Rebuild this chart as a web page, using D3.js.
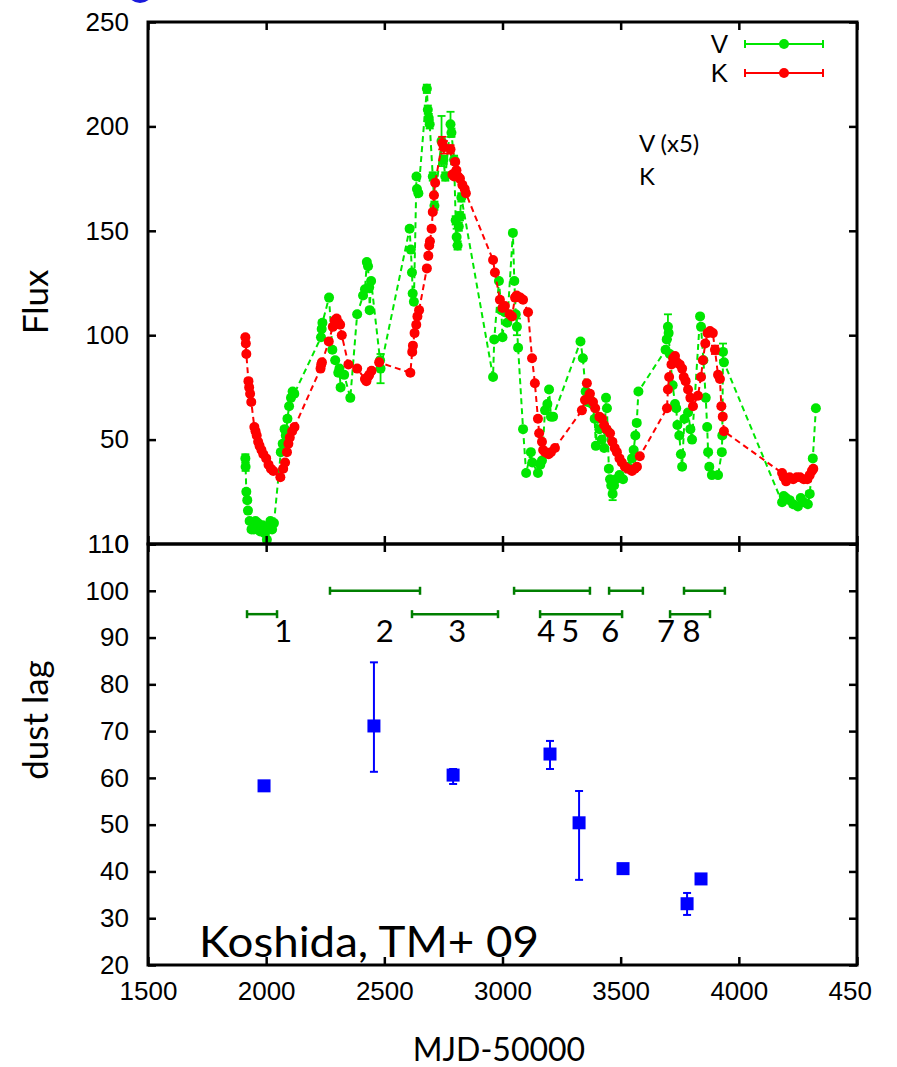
<!DOCTYPE html>
<html>
<head>
<meta charset="utf-8">
<script src="https://cdn.jsdelivr.net/npm/d3@7"></script>
<style>
  body { margin: 0; background: #fff; }
  svg { display: block; }
</style>
</head>
<body>
<svg id="chart"></svg>
<script>
// light curves: [MJD-50000, flux, error]
const vPoints = [
  [1912,41,2],[1913,37,2],[1916,25,1],[1920,21,1],[1923,16,1],[1930,11,1],[1938,7,1],[1948,7,1],[1955,11,1],[1965,10,1],[1975,6,1],[1985,9,1],[1995,5,1],[2003,2,1],[2010,8,1],[2018,11,1],[2025,7,1],[2033,10,1],
  [2062,44,1],[2070,48,1],[2078,55,1],[2083,52,1],[2090,60,1],[2097,66,1],[2105,70,1],[2112,73,1],[2119,72,1],
  [2232,99,1],[2235,103,1],[2238,106,1],[2266,118,1],[2280,93,1],[2292,88,1],[2305,82,1],[2310,84,1],[2315,75,1],[2330,81,1],[2356,70,1],
  [2385,110,1],[2410,119,1],[2418,122,1],[2426,135,1],[2431,133,1],[2436,123,1],[2438,112,1],[2444,126,1],[2482,88,1],[2484,84,7],
  [2607,151,1],[2612,141,1],[2617,130,1],[2620,120,1],[2625,116,1],[2636,176,1],[2638,170,1],[2644,168,1],
  [2680,218,2],[2684,208,2],[2688,204,2],[2692,201,2],[2705,176,2],[2712,162,2],[2742,193,12],[2750,184,2],[2758,176,2],[2780,201,6],[2784,197,2],[2795,184,2],[2802,155,2],[2806,147,4],[2810,143,2],[2815,152,2],[2820,157,2],[2826,166,2],
  [2960,80,1],[2965,98,1],[2985,126,1],[2995,112,1],[3000,99,1],[3010,111,1],[3020,106,1],[3044,149,1],[3050,126,1],[3056,110,1],[3061,104,4],[3066,94,1],[3087,55,1],[3100,34,1],[3120,44,1],[3126,39,1],[3150,34,1],[3160,38,1],[3167,40,1],[3180,64,1],[3190,67,1],[3197,74,1],[3205,61,1],[3214,61,1],
  [3330,97,1],[3340,89,1],[3352,73,1],[3360,68,1],[3372,69,1],[3380,67,1],[3390,60,1],[3395,47,1],[3400,60,1],[3410,55,1],[3420,50,1],[3430,46,1],[3438,70,1],[3442,65,1],[3445,54,1],[3450,36,1],[3455,31,1],[3460,28,1],[3466,24,3],[3472,28,1],[3480,31,1],[3495,33,1],[3510,31,1],[3530,37,1],[3548,41,1],[3555,45,1],[3562,52,1],[3568,58,1],[3575,73,1],
  [3690,93,1],[3695,98,1],[3700,104,6],[3703,101,1],[3708,91,1],[3720,76,1],[3730,67,1],[3735,65,1],[3740,57,1],[3748,52,1],[3755,43,1],[3760,37,1],[3770,60,1],[3785,63,1],[3795,55,1],[3802,50,1],[3836,109,1],[3840,104,1],[3850,88,1],[3860,70,1],[3866,56,1],[3870,44,1],[3875,37,1],[3886,33,1],[3912,33,1],[3928,44,1],[3930,52,1],[3933,92,4],[3937,87,1],
  [4183,20,1],[4190,23,1],[4200,22,1],[4215,21,1],[4230,19,1],[4250,18,1],[4262,22,1],[4275,20,1],[4292,19,1],[4300,24,1],[4313,41,1],[4326,65,1]
];

const kPoints = [
  [1912,99,1],[1914,96,1],[1916,91,1],[1925,78,1],[1928,75,1],[1932,72,1],[1937,68,1],[1950,56,1],[1955,54,1],[1960,52,1],[1966,49,1],[1972,47,1],[1980,45,1],[1988,43,1],[2000,41,1],[2010,38,1],[2020,36,1],[2030,35,1],[2060,32,1],[2072,36,1],[2080,39,1],[2088,44,1],[2094,48,1],[2100,51,1],[2110,54,1],[2120,56,1],
  [2230,84,1],[2233,86,1],[2236,87,1],[2265,97,1],[2282,104,1],[2290,107,1],[2298,108,1],[2306,106,1],[2313,105,1],[2320,100,1],[2348,86,1],[2385,84,1],[2418,79,1],[2424,78,1],[2430,80,1],[2436,81,1],[2446,83,1],[2478,87,1],
  [2610,82,1],[2618,92,1],[2621,95,1],[2628,101,1],[2635,105,1],[2640,109,1],[2647,112,1],[2680,132,1],[2686,138,1],[2690,143,1],[2693,145,1],[2700,151,1],[2705,159,1],[2710,167,1],[2715,173,1],[2745,192,3],[2752,190,3],[2780,189,2],[2788,177,1],[2795,176,1],[2800,183,1],[2805,179,1],[2812,176,1],[2820,175,1],[2830,172,1],[2840,170,1],[2845,168,1],
  [2960,136,1],[2968,130,1],[2989,117,1],[3000,113,1],[3010,114,1],[3030,110,1],[3040,109,1],[3053,118,1],[3060,119,1],[3075,118,1],[3087,117,1],[3108,111,1],[3125,89,1],[3137,77,1],[3150,60,1],[3155,53,1],[3167,49,1],[3172,45,1],[3180,44,1],[3195,43,1],[3205,44,1],[3222,46,1],
  [3336,64,1],[3349,69,1],[3357,77,1],[3370,72,1],[3383,68,1],[3392,65,1],[3410,61,1],[3421,60,1],[3430,57,1],[3440,55,1],[3455,53,1],[3465,49,1],[3475,46,1],[3484,44,1],[3495,41,1],[3505,39,1],[3518,37,1],[3530,36,1],[3548,35,1],[3560,36,1],[3569,37,1],[3581,42,1],
  [3696,65,1],[3700,74,1],[3705,80,1],[3715,86,1],[3722,89,1],[3730,90,1],[3738,87,1],[3750,86,1],[3760,84,1],[3767,80,1],[3775,78,1],[3785,74,1],[3795,70,1],[3806,66,1],[3827,71,1],[3840,80,1],[3848,88,1],[3858,96,1],[3868,101,1],[3878,102,1],[3890,101,1],[3899,93,2],[3912,81,1],[3920,79,1],[3926,66,1],[3932,61,1],[3937,54,1],
  [4183,34,1],[4190,32,1],[4200,30,1],[4215,32,1],[4230,31,1],[4245,32,1],[4259,32,1],[4275,31,1],[4290,31,1],[4300,33,1],[4309,35,1],[4315,36,1]
];

// dust lag per period
const lagMjd   = [1991, 2456, 2791, 3201, 3324, 3510, 3781, 3840];
const lagValue = [58.3, 71.1, 60.6, 65.1, 50.4, 40.6, 33.1, 38.4];
const lagErrHi = [0.5, 13.6, 1.3, 2.8, 6.8, 0.9, 2.3, 0.5];
const lagErrLo = [0.5, 9.8, 1.9, 3.2, 12.2, 0.9, 2.4, 0.5];

// time windows used for each lag
const windowLabels = ["1", "2", "3", "4", "5", "6", "7", "8"];
const windowStart  = [1919, 2270, 2617, 3049, 3159, 3451, 3709, 3768];
const windowEnd    = [2046, 2651, 2981, 3370, 3506, 3594, 3878, 3941];
const windowLevel  = [95, 100, 95, 100, 95, 100, 95, 100];
const windowLabelMjd = [2072, 2502, 2808, 3185, 3287, 3456, 3692, 3800];
const windowLabelLag = 91.5;

const xTicks    = [1500, 2000, 2500, 3000, 3500, 4000, 4500];
const fluxTicks = [0, 50, 100, 150, 200, 250];
const lagTicks  = [20, 30, 40, 50, 60, 70, 80, 90, 100, 110];

// picture is cropped on the right, through the last x label
const width = 872, height = 1067;
const L = 148, R = 857, T1 = 22, B1 = 544, T2 = 544, B2 = 965;
const green = "#00e600", red = "#ff0000";

const svg = d3.select("#chart").attr("width", width).attr("height", height);

const x = d3.scaleLinear().domain([1500, 4500]).range([L, R]);
const yFlux = d3.scaleLinear().domain([0, 250]).range([B1, T1]);
const yLag = d3.scaleLinear().domain([20, 110]).range([B2, T2]);

// bit of the slide title peeking at the top
svg.append("ellipse").attr("cx", 140).attr("cy", -7).attr("rx", 12).attr("ry", 10).attr("fill", "#1a1adc");

function frameAxes(yScale, yTicks, top, bottom, showX) {
  const tickFont = "'Liberation Sans', Arial, sans-serif";
  const gl = svg.append("g").attr("transform", "translate(" + L + ",0)")
    .call(d3.axisLeft(yScale).tickValues(yTicks).tickSize(-8).tickPadding(19));
  const gr = svg.append("g").attr("transform", "translate(" + R + ",0)")
    .call(d3.axisRight(yScale).tickValues(yTicks).tickSize(-8).tickFormat(""));
  const gt = svg.append("g").attr("transform", "translate(0," + top + ")")
    .call(d3.axisTop(x).tickValues(xTicks).tickSize(-8).tickFormat(""));
  const gb = svg.append("g").attr("transform", "translate(0," + bottom + ")")
    .call(d3.axisBottom(x).tickValues(xTicks).tickSize(-8).tickPadding(17)
      .tickFormat(showX ? d3.format("d") : ""));
  [gl, gr, gt, gb].forEach(g => {
    g.select(".domain").remove();
    g.selectAll("line").attr("stroke", "#000").attr("stroke-width", 2.5);
    g.selectAll("text").attr("fill", "#000").style("font-family", tickFont).style("font-size", "26px");
  });
  svg.append("rect").attr("x", L).attr("y", top).attr("width", R - L).attr("height", bottom - top)
    .attr("fill", "none").attr("stroke", "#000").attr("stroke-width", 3);
}

// ---------- top panel: V and K light curves ----------
function drawSeries(data, color) {
  const g = svg.append("g");
  const line = d3.line().x(d => x(d[0])).y(d => yFlux(d[1]));
  g.append("path").datum(data).attr("d", line).attr("fill", "none")
    .attr("stroke", color).attr("stroke-width", 2).attr("stroke-dasharray", "6,4");
  const eb = g.selectAll("g.eb").data(data).enter().append("g").attr("stroke", color).attr("stroke-width", 1.8);
  eb.append("line").attr("x1", d => x(d[0])).attr("x2", d => x(d[0]))
    .attr("y1", d => yFlux(d[1] - d[2])).attr("y2", d => yFlux(d[1] + d[2]));
  eb.append("line").attr("x1", d => x(d[0]) - 4).attr("x2", d => x(d[0]) + 4)
    .attr("y1", d => yFlux(d[1] + d[2])).attr("y2", d => yFlux(d[1] + d[2]));
  eb.append("line").attr("x1", d => x(d[0]) - 4).attr("x2", d => x(d[0]) + 4)
    .attr("y1", d => yFlux(d[1] - d[2])).attr("y2", d => yFlux(d[1] - d[2]));
  g.selectAll("circle").data(data).enter().append("circle")
    .attr("cx", d => x(d[0])).attr("cy", d => yFlux(d[1])).attr("r", 5).attr("fill", color);
}
drawSeries(vPoints, green);
drawSeries(kPoints, red);

frameAxes(yFlux, fluxTicks, T1, B1, false);

// legend
const legend = svg.append("g").style("font-family", "'Liberation Sans', Arial, sans-serif").style("font-size", "26px");
[["V", green, 44], ["K", red, 73]].forEach(([name, col, ly]) => {
  legend.append("text").attr("x", 728).attr("y", ly + 9).attr("text-anchor", "end").text(name);
  legend.append("line").attr("x1", 745).attr("x2", 823).attr("y1", ly).attr("y2", ly).attr("stroke", col).attr("stroke-width", 2);
  [745, 823].forEach(cx => legend.append("line").attr("x1", cx).attr("x2", cx).attr("y1", ly - 4).attr("y2", ly + 4)
    .attr("stroke", col).attr("stroke-width", 2));
  legend.append("circle").attr("cx", 784).attr("cy", ly).attr("r", 5).attr("fill", col);
});

const note = svg.append("g").style("font-family", "Lato, 'Open Sans', sans-serif").style("font-size", "24px");
note.append("text").attr("x", 639).attr("y", 152).text("V (x5)");
note.append("text").attr("x", 639).attr("y", 185).text("K");

// ---------- bottom panel: dust lag ----------
const win = svg.append("g").attr("stroke", "#007f00").attr("stroke-width", 2.5);
windowStart.forEach((s, i) => {
  const yy = yLag(windowLevel[i]);
  win.append("line").attr("x1", x(s)).attr("x2", x(windowEnd[i])).attr("y1", yy).attr("y2", yy);
  win.append("line").attr("x1", x(s)).attr("x2", x(s)).attr("y1", yy - 4).attr("y2", yy + 4);
  win.append("line").attr("x1", x(windowEnd[i])).attr("x2", x(windowEnd[i])).attr("y1", yy - 4).attr("y2", yy + 4);
});
svg.append("g").style("font-family", "Lato, 'Open Sans', sans-serif").style("font-size", "31px")
  .selectAll("text").data(windowLabels).enter().append("text")
  .attr("x", (d, i) => x(windowLabelMjd[i])).attr("y", yLag(windowLabelLag) + 11)
  .attr("text-anchor", "middle").text(d => d);

const lagG = svg.append("g");
lagMjd.forEach((m, i) => {
  const cx = x(m);
  const hi = yLag(lagValue[i] + lagErrHi[i]), lo = yLag(lagValue[i] - lagErrLo[i]);
  lagG.append("line").attr("x1", cx).attr("x2", cx).attr("y1", hi).attr("y2", lo).attr("stroke", "#0000ff").attr("stroke-width", 2);
  [hi, lo].forEach(yy => lagG.append("line").attr("x1", cx - 4).attr("x2", cx + 4).attr("y1", yy).attr("y2", yy)
    .attr("stroke", "#0000ff").attr("stroke-width", 2));
  lagG.append("rect").attr("x", cx - 6.5).attr("y", yLag(lagValue[i]) - 6.5).attr("width", 13).attr("height", 13).attr("fill", "#0000ff");
});

frameAxes(yLag, lagTicks, T2, B2, true);

// labels
const lab = svg.append("g").style("font-family", "Lato, 'Open Sans', sans-serif").attr("fill", "#000");
lab.append("text").attr("transform", "translate(48,302) rotate(-90)").attr("text-anchor", "middle")
  .style("font-size", "35px").text("Flux");
lab.append("text").attr("transform", "translate(48,720) rotate(-90)").attr("text-anchor", "middle")
  .style("font-size", "35px").text("dust lag");
lab.append("text").attr("x", 499).attr("y", 1061).attr("text-anchor", "middle")
  .style("font-size", "32px").text("MJD-50000");
lab.append("text").attr("x", 199).attr("y", 957)
  .attr("textLength", 340).attr("lengthAdjust", "spacingAndGlyphs")
  .style("font-size", "42px").text("Koshida, TM+ 09");
</script>
</body>
</html>
